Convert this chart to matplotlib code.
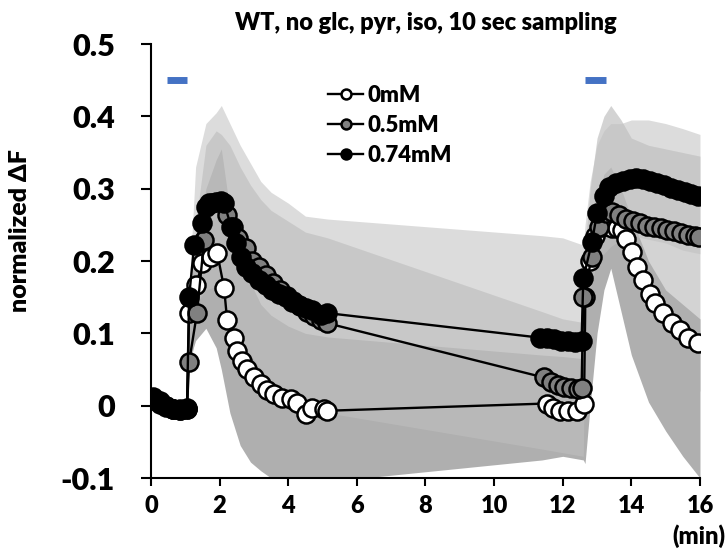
import matplotlib
matplotlib.use('Agg')
import matplotlib.pyplot as plt
from matplotlib import font_manager as fm

# pick a sans family that really has a bold face installed
family = 'DejaVu Sans'
for fam in ['Lato', 'Open Sans', 'Roboto', 'Noto Sans', 'Liberation Sans']:
    try:
        path = fm.findfont(fm.FontProperties(family=fam, weight='heavy'), fallback_to_default=False)
    except Exception:
        continue
    name = path.lower()
    if 'bold' in name or 'black' in name or 'heavy' in name:
        family = fam
        break
plt.rcParams['font.family'] = [family, 'DejaVu Sans']
plt.rcParams['font.weight'] = 'heavy'
W = 'heavy'

# mean traces (time in min, normalized dF)
t_0 = [0.05, 0.25, 0.45, 0.65, 0.85, 1.05, 1.11, 1.32, 1.49, 1.75, 1.93, 2.13, 2.22, 2.42, 2.51,
       2.66, 2.80, 3.01, 3.21, 3.39, 3.59, 3.83, 4.09, 4.26, 4.53, 4.70, 5.05, 5.14,
       11.53, 11.71, 11.91, 12.15, 12.41, 12.62, 12.66, 12.79, 12.95, 13.14, 13.30, 13.43, 13.58,
       13.72, 13.85, 14.01, 14.16, 14.34, 14.54, 14.69, 14.92, 15.18, 15.42, 15.65, 15.94]
v_0 = [0.008, 0.003, -0.002, -0.005, -0.006, -0.004, 0.128, 0.167, 0.197, 0.206, 0.211, 0.163, 0.118,
       0.094, 0.076, 0.062, 0.051, 0.039, 0.030, 0.021, 0.016, 0.011, 0.009, 0.004, -0.011, -0.003,
       -0.004, -0.007,
       0.003, -0.003, -0.007, -0.007, -0.007, 0.003, 0.150, 0.200, 0.235, 0.247, 0.250, 0.245, 0.245,
       0.243, 0.230, 0.213, 0.192, 0.174, 0.155, 0.142, 0.128, 0.114, 0.104, 0.093, 0.086]

t_05 = [0.05, 0.25, 0.45, 0.65, 0.85, 1.05, 1.11, 1.34, 1.55, 1.69, 2.04, 2.22, 2.40, 2.55, 2.77,
        2.95, 3.15, 3.35, 3.55, 3.75, 3.95, 4.15, 4.35, 4.55, 4.75, 4.95, 5.14,
        11.45, 11.65, 11.85, 12.05, 12.25, 12.45, 12.55, 12.60, 12.85, 13.05, 13.25, 13.45, 13.65,
        13.85, 14.05, 14.25, 14.45, 14.65, 14.85, 15.05, 15.25, 15.45, 15.65, 15.85, 15.97]
v_05 = [0.012, 0.006, 0.000, -0.004, -0.005, -0.004, 0.060, 0.128, 0.229, 0.280, 0.282, 0.264, 0.247,
        0.232, 0.218, 0.200, 0.192, 0.180, 0.170, 0.160, 0.152, 0.145, 0.138, 0.130, 0.124, 0.118, 0.114,
        0.039, 0.033, 0.029, 0.026, 0.024, 0.023, 0.024, 0.150, 0.206, 0.247, 0.266, 0.268, 0.263,
        0.258, 0.255, 0.252, 0.249, 0.247, 0.245, 0.243, 0.241, 0.239, 0.236, 0.234, 0.233]

t_074 = [0.05, 0.25, 0.45, 0.65, 0.85, 1.05, 1.11, 1.26, 1.49, 1.61, 1.78, 1.90, 2.04, 2.13, 2.34,
         2.48, 2.63, 2.77, 2.95, 3.15, 3.36, 3.53, 3.74, 3.94, 4.12, 4.32, 4.53, 4.70, 4.96, 5.14,
         11.35, 11.55, 11.75, 11.95, 12.15, 12.35, 12.55, 12.60, 12.85, 13.00, 13.20, 13.35, 13.55,
         13.75, 13.95, 14.15, 14.35, 14.55, 14.75, 14.95, 15.15, 15.35, 15.55, 15.75, 15.95]
v_074 = [0.010, 0.004, 0.000, -0.005, -0.006, -0.003, 0.150, 0.222, 0.253, 0.275, 0.280, 0.282, 0.283,
         0.280, 0.247, 0.225, 0.206, 0.192, 0.183, 0.174, 0.167, 0.160, 0.155, 0.150, 0.143, 0.139,
         0.135, 0.132, 0.125, 0.128,
         0.094, 0.093, 0.092, 0.090, 0.089, 0.088, 0.090, 0.176, 0.226, 0.266, 0.290, 0.303, 0.308,
         0.310, 0.313, 0.315, 0.313, 0.310, 0.308, 0.305, 0.301, 0.298, 0.295, 0.292, 0.290]

# SD envelopes
band_t = [1.0, 1.1, 1.3, 1.6, 1.9, 2.05, 2.3, 2.6, 2.9, 3.2, 3.5, 4.0, 4.5, 5.15,
          11.4, 12.0, 12.6, 12.65, 12.8, 13.0, 13.2, 13.4, 13.7, 14.0, 14.5, 15.0, 15.5, 16.0]
up_0 = [0.0, 0.13, 0.23, 0.30, 0.34, 0.355, 0.27, 0.21, 0.17, 0.14, 0.125, 0.11, 0.10, 0.095,
        0.07, 0.068, 0.065, 0.15, 0.22, 0.28, 0.32, 0.33, 0.30, 0.26, 0.20, 0.16, 0.14, 0.12]
lo_0 = [0.0, 0.06, 0.09, 0.107, 0.08, 0.05, -0.01, -0.055, -0.078, -0.09, -0.10, -0.115, -0.115, -0.105,
        -0.075, -0.07, -0.075, -0.08, 0.0, 0.10, 0.16, 0.19, 0.13, 0.07, 0.005, -0.035, -0.07, -0.10]
up_05 = [0.0, 0.08, 0.25, 0.36, 0.38, 0.375, 0.36, 0.33, 0.305, 0.285, 0.27, 0.255, 0.24, 0.232,
         0.13, 0.12, 0.115, 0.22, 0.30, 0.37, 0.40, 0.415, 0.395, 0.37, 0.36, 0.355, 0.35, 0.345]
lo_05 = [0.0, 0.04, 0.10, 0.13, 0.12, 0.11, 0.08, 0.05, 0.03, 0.02, 0.01, 0.0, -0.01, -0.02,
         -0.05, -0.06, -0.065, 0.0, 0.10, 0.17, 0.20, 0.21, 0.17, 0.13, 0.09, 0.06, 0.04, 0.02]
up_074 = [0.0, 0.15, 0.33, 0.39, 0.405, 0.415, 0.39, 0.36, 0.335, 0.31, 0.295, 0.28, 0.262, 0.258,
          0.235, 0.232, 0.222, 0.25, 0.31, 0.36, 0.38, 0.39, 0.39, 0.395, 0.395, 0.39, 0.383, 0.375]
lo_074 = [0.0, 0.15, 0.14, 0.16, 0.165, 0.16, 0.12, 0.09, 0.07, 0.05, 0.035, 0.02, 0.005, -0.01,
          -0.06, -0.065, -0.07, 0.12, 0.16, 0.20, 0.21, 0.22, 0.23, 0.235, 0.23, 0.225, 0.215, 0.21]

# stimulus bars
stim_start = [0.47, 12.64]
stim_end = [1.05, 13.25]
stim_y = [0.45, 0.45]

fig = plt.figure(figsize=(7.28, 5.55), dpi=100)
ax = fig.add_axes([0.2074, 0.1387, 0.7541, 0.7820])

ax.fill_between(band_t, lo_0, up_0, color='#7a7a7a', alpha=0.6, lw=0, zorder=1)
ax.fill_between(band_t, lo_05, up_05, color='#b0b0b0', alpha=0.55, lw=0, zorder=1)
ax.fill_between(band_t, lo_074, up_074, color='#c0c0c0', alpha=0.55, lw=0, zorder=1)

ax.hlines(stim_y, stim_start, stim_end, color='#4472c4', lw=5, zorder=2)

kw = dict(color='black', lw=1.7, marker='o', markersize=13, markeredgecolor='black', markeredgewidth=1.8)
ax.plot(t_0, v_0, markerfacecolor='white', label='0mM', zorder=3, **kw)
ax.plot(t_05, v_05, markerfacecolor='#808080', label='0.5mM', zorder=4, **kw)
ax.plot(t_074, v_074, markerfacecolor='black', label='0.74mM', zorder=5, **kw)

ax.set_xlim(0, 16)
ax.set_ylim(-0.1, 0.5)
ax.set_xticks([0, 2, 4, 6, 8, 10, 12, 14, 16])
ax.set_yticks([-0.1, 0, 0.1, 0.2, 0.3, 0.4, 0.5])
ax.set_yticklabels(['-0.1', '0', '0.1', '0.2', '0.3', '0.4', '0.5'])
ax.tick_params(axis='y', labelsize=22, length=7, width=1.5, pad=19)
ax.tick_params(axis='x', labelsize=17, length=6, width=1.5, pad=6)
for s in ['top', 'right']:
    ax.spines[s].set_visible(False)
for s in ['left', 'bottom']:
    ax.spines[s].set_linewidth(1.5)

ax.set_title('WT, no glc, pyr, iso, 10 sec sampling', fontsize=17, fontweight=W, pad=10)
ax.set_ylabel('normalized ΔF', fontsize=18, fontweight=W)
ax.yaxis.set_label_coords(-0.218, 0.571)
fig.text(0.996, 0.034, '(min)', ha='right', va='center', fontsize=17, fontweight=W)

leg = ax.legend(loc='upper left', bbox_to_anchor=(0.322, 0.905), frameon=False, fontsize=16,
                markerscale=0.55, handlelength=1.6, handletextpad=0.2, labelspacing=0.4,
                borderpad=0, borderaxespad=0)

fig.savefig('out.png', dpi=100)
